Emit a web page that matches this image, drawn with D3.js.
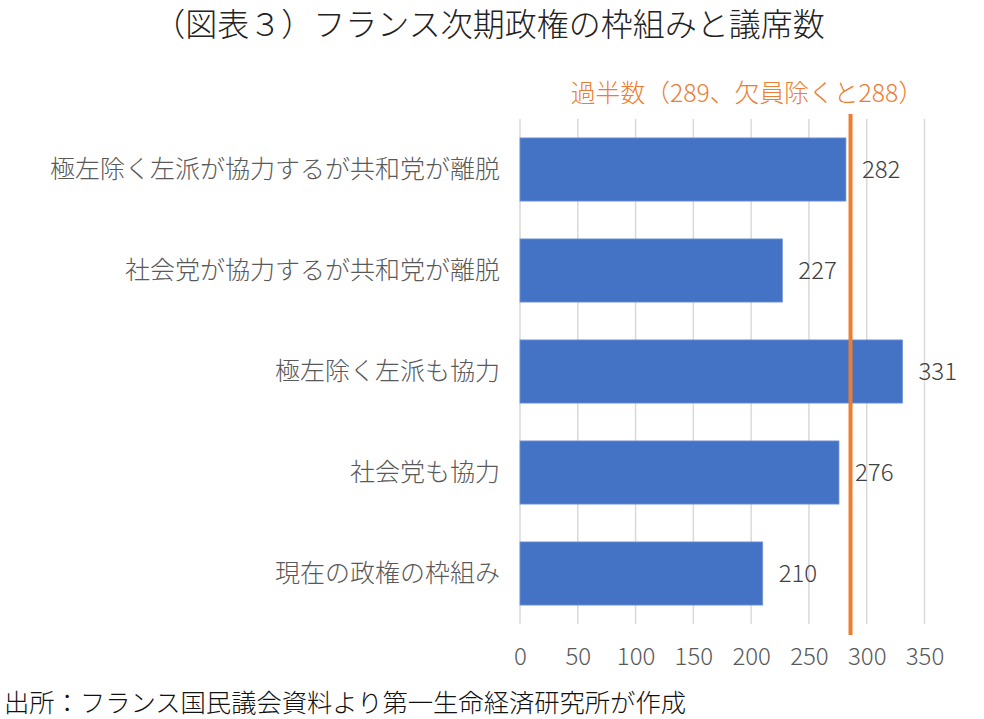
<!DOCTYPE html>
<html><head><meta charset="utf-8">
<script src="https://cdn.jsdelivr.net/npm/d3@7"></script>
<style>
html,body{margin:0;padding:0;background:#fff;}
text{font-family:"Noto Sans CJK JP","Noto Sans",sans-serif;font-weight:300;}
</style></head>
<body><svg id="chart" width="984" height="719"></svg>
<script>
const categories = ["極左除く左派が協力するが共和党が離脱","社会党が協力するが共和党が離脱","極左除く左派も協力","社会党も協力","現在の政権の枠組み"];
const seats = [282, 227, 331, 276, 210];
const xTicks = [0, 50, 100, 150, 200, 250, 300, 350];
const majorityLineValue = 286;
const majorityLabel = "過半数（289、欠員除くと288）";
const titleText = "（図表３）フランス次期政権の枠組みと議席数";
const sourceText = "出所：フランス国民議会資料より第一生命経済研究所が作成";

const svg = d3.select("#chart");
const x = d3.scaleLinear().domain([0, 350]).range([520, 924.5]);
const y = d3.scaleBand().domain(categories).range([119, 624]).paddingInner(0.375).paddingOuter(0.1875);

// gridlines
svg.append("g").selectAll("line").data(xTicks).join("line")
  .attr("x1", d => x(d)).attr("x2", d => x(d))
  .attr("y1", 119).attr("y2", 624)
  .attr("stroke", "#d9d9d9").attr("stroke-width", 1.5);

// bars
svg.append("g").selectAll("rect").data(seats).join("rect")
  .attr("x", x(0)).attr("y", (d, i) => y(categories[i]))
  .attr("width", d => x(d) - x(0)).attr("height", y.bandwidth())
  .attr("fill", "#4472C4").attr("stroke", "#6f94d6").attr("stroke-width", 0.8);

// value labels
svg.append("g").selectAll("text").data(seats).join("text")
  .attr("x", d => x(d) + 16).attr("y", (d, i) => y(categories[i]) + y.bandwidth() / 2)
  .attr("dy", "0.35em").attr("font-size", 24).attr("fill", "#404040")
  .text(d => d);

// category labels
svg.append("g").selectAll("text").data(categories).join("text")
  .attr("x", 500).attr("y", d => y(d) + y.bandwidth() / 2)
  .attr("dy", "0.35em").attr("text-anchor", "end")
  .attr("font-size", 25).attr("fill", "#595959")
  .text(d => d);

// x axis
const xAxis = d3.axisBottom(x).tickValues(xTicks).tickSize(0).tickPadding(0);
const ax = svg.append("g").attr("transform", "translate(0,645)").call(xAxis);
ax.select(".domain").remove();
ax.selectAll("text").attr("font-size", 24).attr("fill", "#595959")
  .attr("dy", "0.35em").attr("y", 12)
  .style("font-family", '"Noto Sans CJK JP","Noto Sans",sans-serif')
  .style("font-weight", 300);

// majority line
svg.append("line")
  .attr("x1", x(majorityLineValue)).attr("x2", x(majorityLineValue))
  .attr("y1", 114).attr("y2", 635)
  .attr("stroke", "#ED7D31").attr("stroke-width", 4);

svg.append("text").attr("x", 747).attr("y", 93).attr("dy", "0.35em")
  .attr("text-anchor", "middle").attr("font-size", 24.8).attr("fill", "#ED7D31")
  .text(majorityLabel);

// title
svg.append("text").attr("x", 489).attr("y", 25).attr("dy", "0.35em")
  .attr("text-anchor", "middle").attr("font-size", 32).attr("fill", "#222")
  .text(titleText);

// source
svg.append("text").attr("x", 4).attr("y", 703).attr("dy", "0.35em")
  .attr("font-size", 25.3).attr("fill", "#111")
  .text(sourceText);
</script></body></html>
